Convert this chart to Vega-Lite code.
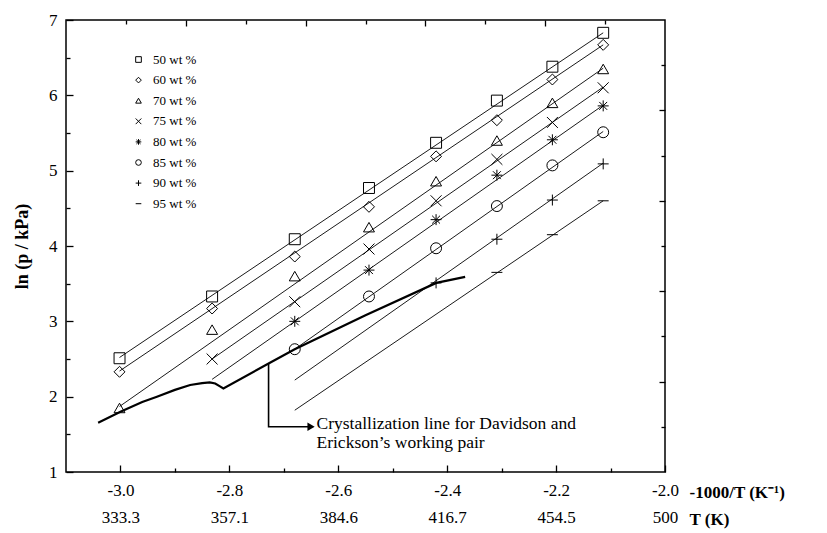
{
  "$schema": "https://vega.github.io/schema/vega-lite/v6.json",
  "width": 599,
  "height": 452,
  "autosize": {"type": "none"},
  "padding": {"left": 66, "top": 20, "right": 162, "bottom": 61},
  "background": "white",
  "config": {
    "view": {"stroke": "black", "strokeWidth": 1.5},
    "font": "Liberation Serif",
    "axis": {"grid": false, "domain": false, "tickColor": "black", "tickWidth": 1.3, "labelColor": "black", "titleColor": "black", "labelFont": "Liberation Serif", "titleFont": "Liberation Serif", "labelOverlap": false, "labelFlush": false, "labelBound": false}
  },
  "datasets": {
    "pts": [
      {"s": "50 wt %", "x": -3.0017, "y": 2.51}, {"s": "50 wt %", "x": -2.8317, "y": 3.33}, {"s": "50 wt %", "x": -2.6799, "y": 4.09}, {"s": "50 wt %", "x": -2.5436, "y": 4.77}, {"s": "50 wt %", "x": -2.4204, "y": 5.37}, {"s": "50 wt %", "x": -2.3087, "y": 5.93}, {"s": "50 wt %", "x": -2.2068, "y": 6.38}, {"s": "50 wt %", "x": -2.1135, "y": 6.83},
      {"s": "60 wt %", "x": -3.0017, "y": 2.33}, {"s": "60 wt %", "x": -2.8317, "y": 3.17}, {"s": "60 wt %", "x": -2.6799, "y": 3.86}, {"s": "60 wt %", "x": -2.5436, "y": 4.52}, {"s": "60 wt %", "x": -2.4204, "y": 5.19}, {"s": "60 wt %", "x": -2.3087, "y": 5.67}, {"s": "60 wt %", "x": -2.2068, "y": 6.21}, {"s": "60 wt %", "x": -2.1135, "y": 6.67},
      {"s": "70 wt %", "x": -3.0017, "y": 1.85}, {"s": "70 wt %", "x": -2.8317, "y": 2.89}, {"s": "70 wt %", "x": -2.6799, "y": 3.60}, {"s": "70 wt %", "x": -2.5436, "y": 4.25}, {"s": "70 wt %", "x": -2.4204, "y": 4.86}, {"s": "70 wt %", "x": -2.3087, "y": 5.40}, {"s": "70 wt %", "x": -2.2068, "y": 5.90}, {"s": "70 wt %", "x": -2.1135, "y": 6.35},
      {"s": "75 wt %", "x": -2.8317, "y": 2.50}, {"s": "75 wt %", "x": -2.6799, "y": 3.26}, {"s": "75 wt %", "x": -2.5436, "y": 3.96}, {"s": "75 wt %", "x": -2.4204, "y": 4.60}, {"s": "75 wt %", "x": -2.3087, "y": 5.15}, {"s": "75 wt %", "x": -2.2068, "y": 5.64}, {"s": "75 wt %", "x": -2.1135, "y": 6.10},
      {"s": "80 wt %", "x": -2.6799, "y": 3.00}, {"s": "80 wt %", "x": -2.5436, "y": 3.68}, {"s": "80 wt %", "x": -2.4204, "y": 4.35}, {"s": "80 wt %", "x": -2.3087, "y": 4.94}, {"s": "80 wt %", "x": -2.2068, "y": 5.41}, {"s": "80 wt %", "x": -2.1135, "y": 5.86},
      {"s": "85 wt %", "x": -2.6799, "y": 2.63}, {"s": "85 wt %", "x": -2.5436, "y": 3.33}, {"s": "85 wt %", "x": -2.4204, "y": 3.97}, {"s": "85 wt %", "x": -2.3087, "y": 4.53}, {"s": "85 wt %", "x": -2.2068, "y": 5.07}, {"s": "85 wt %", "x": -2.1135, "y": 5.51},
      {"s": "90 wt %", "x": -2.4204, "y": 3.51}, {"s": "90 wt %", "x": -2.3087, "y": 4.09}, {"s": "90 wt %", "x": -2.2068, "y": 4.61}, {"s": "90 wt %", "x": -2.1135, "y": 5.09},
      {"s": "95 wt %", "x": -2.3087, "y": 3.65}, {"s": "95 wt %", "x": -2.2068, "y": 4.15}, {"s": "95 wt %", "x": -2.1135, "y": 4.60}
    ],
    "fits": [
      {"s": "50 wt %", "x": -3.0017, "y": 2.52}, {"s": "50 wt %", "x": -2.1135, "y": 6.83},
      {"s": "60 wt %", "x": -3.0017, "y": 2.34}, {"s": "60 wt %", "x": -2.1135, "y": 6.67},
      {"s": "70 wt %", "x": -3.0017, "y": 1.87}, {"s": "70 wt %", "x": -2.1135, "y": 6.36},
      {"s": "75 wt %", "x": -2.8317, "y": 2.50}, {"s": "75 wt %", "x": -2.1135, "y": 6.11},
      {"s": "80 wt %", "x": -2.8317, "y": 2.23}, {"s": "80 wt %", "x": -2.1135, "y": 5.87},
      {"s": "85 wt %", "x": -2.6799, "y": 2.63}, {"s": "85 wt %", "x": -2.1135, "y": 5.52},
      {"s": "90 wt %", "x": -2.6799, "y": 2.22}, {"s": "90 wt %", "x": -2.1135, "y": 5.10},
      {"s": "95 wt %", "x": -2.6799, "y": 1.82}, {"s": "95 wt %", "x": -2.1135, "y": 4.60}
    ],
    "cryst": [
      {"i": 1, "x": -3.041, "y": 1.655}, {"i": 2, "x": -3.0, "y": 1.80}, {"i": 3, "x": -2.96, "y": 1.93}, {"i": 4, "x": -2.933, "y": 2.00}, {"i": 5, "x": -2.90, "y": 2.09}, {"i": 6, "x": -2.872, "y": 2.155}, {"i": 7, "x": -2.85, "y": 2.18}, {"i": 8, "x": -2.836, "y": 2.19}, {"i": 9, "x": -2.826, "y": 2.175}, {"i": 10, "x": -2.818, "y": 2.14}, {"i": 11, "x": -2.811, "y": 2.11}, {"i": 12, "x": -2.728, "y": 2.44}, {"i": 13, "x": -2.68, "y": 2.63}, {"i": 14, "x": -2.55, "y": 3.08}, {"i": 15, "x": -2.42, "y": 3.51}, {"i": 16, "x": -2.367, "y": 3.59}
    ],
    "arrow": [
      {"i": 1, "x": -2.728, "y": 2.44}, {"i": 2, "x": -2.728, "y": 1.60}, {"i": 3, "x": -2.655, "y": 1.60}
    ],
    "head": [{"x": -2.650, "y": 1.60}],
    "note": [
      {"x": -2.640, "y": 1.637, "t": "Crystallization line for Davidson and"},
      {"x": -2.640, "y": 1.385, "t": "Erickson’s working pair"}
    ]
  },
  "resolve": {"axis": {"x": "independent", "y": "independent"}},
  "layer": [
    {
      "data": {"name": "fits"},
      "mark": {"type": "line", "stroke": "black", "strokeWidth": 0.9},
      "encoding": {
        "x": {"field": "x", "type": "quantitative", "scale": {"domain": [-3.1, -2.0], "nice": false, "zero": false},
          "axis": {"orient": "bottom",
            "values": [-3, -2.9, -2.8, -2.7, -2.6, -2.5, -2.4, -2.3, -2.2, -2.1, -2],
            "tickSize": {"condition": {"test": "indexof([-3,-2.8,-2.6,-2.4,-2.2,-2], datum.value) >= 0", "value": -7}, "value": -4},
            "labelExpr": "indexof([-3,-2.8,-2.6,-2.4,-2.2,-2], datum.value) >= 0 ? ['-' + format(-datum.value, '.1f'), datum.value == -2 ? '500' : format(-1000/datum.value, '.1f')] : ''",
            "labelFontSize": 17, "labelLineHeight": 27, "labelBaseline": "top", "labelPadding": 17,
            "title": ["-1000/T (K⁻¹)", "T (K)"], "titleFontSize": 17, "titleFontWeight": "bold", "titleAlign": "left", "titleBaseline": "middle", "titleAngle": 0, "titleX": 623, "titleY": 20, "titleLineHeight": 27}},
        "y": {"field": "y", "type": "quantitative", "scale": {"domain": [1, 7], "nice": false, "zero": false},
          "axis": {"orient": "left",
            "values": [1, 1.5, 2, 2.5, 3, 3.5, 4, 4.5, 5, 5.5, 6, 6.5, 7],
            "tickSize": {"condition": {"test": "datum.value % 1 == 0", "value": -7}, "value": -4},
            "labelExpr": "datum.value % 1 == 0 ? format(datum.value, 'd') : ''",
            "labelFontSize": 17, "labelPadding": 16, "labelBaseline": "middle",
            "title": "ln (p / kPa)", "titleFontSize": 18, "titleFontWeight": "bold", "titleAngle": -90, "titleAlign": "center", "titleBaseline": "middle", "titleX": -44, "titleY": 226}},
        "detail": {"field": "s", "type": "nominal"}
      }
    },
    {
      "data": {"name": "pts"},
      "mark": {"type": "point", "filled": false, "stroke": "black", "color": "black", "strokeWidth": 1, "opacity": 1, "size": 120},
      "encoding": {
        "x": {"field": "x", "type": "quantitative", "scale": {"domain": [-3.1, -2.0], "nice": false, "zero": false}, "axis": null},
        "y": {"field": "y", "type": "quantitative", "scale": {"domain": [1, 7], "nice": false, "zero": false}, "axis": null},
        "shape": {"field": "s", "type": "nominal",
          "scale": {"domain": ["50 wt %", "60 wt %", "70 wt %", "75 wt %", "80 wt %", "85 wt %", "90 wt %", "95 wt %"],
            "range": ["square", "diamond", "triangle-up", "M-1,-1L1,1M-1,1L1,-1", "M-1,0L1,0M0,-1L0,1M-0.72,-0.72L0.72,0.72M-0.72,0.72L0.72,-0.72", "circle", "M-1,0L1,0M0,-1L0,1", "M-1,0L1,0"]},
          "legend": {"orient": "none", "legendX": 66, "legendY": 33, "title": null, "padding": 0, "labelFont": "Liberation Serif", "labelFontSize": 13, "labelColor": "black", "symbolSize": 32, "symbolStrokeColor": "black", "symbolStrokeWidth": 1, "symbolFillColor": "transparent", "rowPadding": 6.6, "labelOffset": 8}}
      }
    },
    {
      "data": {"name": "cryst"},
      "mark": {"type": "line", "stroke": "black", "strokeWidth": 2.2},
      "encoding": {
        "x": {"field": "x", "type": "quantitative", "scale": {"domain": [-3.1, -2.0], "nice": false, "zero": false},
          "axis": {"orient": "top", "values": [-2.99, -2.88, -2.77, -2.66, -2.55, -2.44, -2.33, -2.22, -2.11],
            "tickSize": {"condition": {"test": "indexof([-2.88,-2.66,-2.44,-2.22], datum.value) >= 0", "value": -6}, "value": -4},
            "labels": false, "title": null}},
        "y": {"field": "y", "type": "quantitative", "scale": {"domain": [1, 7], "nice": false, "zero": false},
          "axis": {"orient": "right", "values": [1.6, 2.2, 2.8, 3.4, 4.0, 4.6, 5.2, 5.8, 6.4],
            "tickSize": {"condition": {"test": "indexof([2.2,3.4,4.6,5.8], datum.value) >= 0", "value": -6}, "value": -4},
            "labels": false, "title": null}},
        "order": {"field": "i", "type": "quantitative"}
      }
    },
    {
      "data": {"name": "arrow"},
      "mark": {"type": "line", "stroke": "black", "strokeWidth": 1.6},
      "encoding": {
        "x": {"field": "x", "type": "quantitative", "scale": {"domain": [-3.1, -2.0], "nice": false, "zero": false}, "axis": null},
        "y": {"field": "y", "type": "quantitative", "scale": {"domain": [1, 7], "nice": false, "zero": false}, "axis": null},
        "order": {"field": "i", "type": "quantitative"}
      }
    },
    {
      "data": {"name": "head"},
      "mark": {"type": "point", "shape": "triangle-right", "filled": true, "color": "black", "size": 70, "opacity": 1},
      "encoding": {
        "x": {"field": "x", "type": "quantitative", "scale": {"domain": [-3.1, -2.0], "nice": false, "zero": false}, "axis": null},
        "y": {"field": "y", "type": "quantitative", "scale": {"domain": [1, 7], "nice": false, "zero": false}, "axis": null}
      }
    },
    {
      "data": {"name": "note"},
      "mark": {"type": "text", "align": "left", "baseline": "middle", "font": "Liberation Serif", "fontSize": 17.5, "color": "black"},
      "encoding": {
        "x": {"field": "x", "type": "quantitative", "scale": {"domain": [-3.1, -2.0], "nice": false, "zero": false}, "axis": null},
        "y": {"field": "y", "type": "quantitative", "scale": {"domain": [1, 7], "nice": false, "zero": false}, "axis": null},
        "text": {"field": "t", "type": "nominal"}
      }
    }
  ]
}
